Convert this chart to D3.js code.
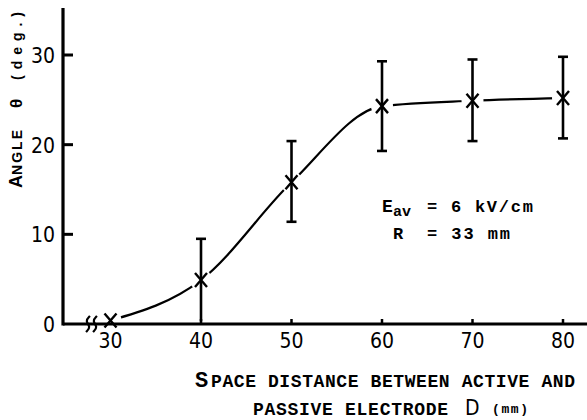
<!DOCTYPE html>
<html>
<head>
<meta charset="utf-8">
<script src="https://cdn.jsdelivr.net/npm/d3@7"></script>
<style>
  html, body { margin: 0; padding: 0; background: #fff; }
  svg { display: block; }
  .tick-label { font-family: "Liberation Sans Narrow", "DejaVu Sans Condensed", sans-serif; font-size: 21px; fill: #000; }
  .mono { font-family: "Liberation Mono", "DejaVu Sans Mono", monospace; font-weight: bold; fill: #000; }
  .sans { font-family: "Liberation Sans", Arial, sans-serif; font-weight: bold; fill: #000; }
</style>
</head>
<body>
<svg id="chart" width="587" height="420"></svg>
<script>
// Measured deflection angle against electrode spacing
const distances = [30, 40, 50, 60, 70, 80];
const angles    = [0.4, 4.9, 15.8, 24.3, 24.9, 25.2];
const errLow    = [0.4, 0.3, 11.4, 19.3, 20.4, 20.7];
const errHigh   = [0.4, 9.5, 20.4, 29.3, 29.5, 29.8];
const xTicks = [30, 40, 50, 60, 70, 80];
const yTicks = [0, 10, 20, 30];

const svg = d3.select("#chart");
const x = d3.scaleLinear().domain([30, 80]).range([110.5, 563]);
const y = d3.scaleLinear().domain([0, 30]).range([324, 55]);
const axisX = 63;
const axisY = y(0);

const pts = distances.map((d, i) => ({ d, a: angles[i], lo: errLow[i], hi: errHigh[i] }));

// Mask that opens gaps in the fitted curve around every marker
const defs = svg.append("defs");
const mask = defs.append("mask").attr("id", "gaps");
mask.append("rect").attr("x", 0).attr("y", 0).attr("width", 587).attr("height", 420).attr("fill", "#fff");
mask.selectAll("circle").data(pts).join("circle")
  .attr("cx", p => x(p.d)).attr("cy", p => y(p.a)).attr("r", 11).attr("fill", "#000");

// Fitted curve
const line = d3.line().x(p => x(p.d)).y(p => y(p.a)).curve(d3.curveMonotoneX);
svg.append("path").datum(pts).attr("d", line)
  .attr("fill", "none").attr("stroke", "#000").attr("stroke-width", 2.2)
  .attr("mask", "url(#gaps)");

// Axes
svg.append("line").attr("x1", axisX).attr("x2", axisX).attr("y1", 8).attr("y2", axisY + 1.5)
  .attr("stroke", "#000").attr("stroke-width", 3.2);
svg.append("line").attr("x1", axisX).attr("x2", 587).attr("y1", axisY).attr("y2", axisY)
  .attr("stroke", "#000").attr("stroke-width", 3);

// Y ticks point inward
svg.selectAll(".ytick").data(yTicks.filter(t => t > 0)).join("line")
  .attr("x1", axisX).attr("x2", axisX + 10).attr("y1", t => y(t)).attr("y2", t => y(t))
  .attr("stroke", "#000").attr("stroke-width", 3);
svg.selectAll(".ylab").data(yTicks).join("text").attr("class", "tick-label")
  .attr("x", axisX - 8).attr("y", t => y(t) + 8).attr("text-anchor", "end").text(t => t);

// X ticks (short, upward)
svg.selectAll(".xtick").data(xTicks.filter(t => t > 30)).join("line")
  .attr("x1", t => x(t)).attr("x2", t => x(t)).attr("y1", axisY).attr("y2", axisY - 5)
  .attr("stroke", "#000").attr("stroke-width", 2.5);
svg.selectAll(".xlab").data(xTicks).join("text").attr("class", "tick-label")
  .attr("x", t => x(t)).attr("y", axisY + 24).attr("text-anchor", "middle").text(t => t);

// Axis break symbol
const brk = d3.line().curve(d3.curveBasis);
[88, 95].forEach(bx => {
  svg.append("path")
    .attr("d", brk([[bx + 2, axisY - 8], [bx - 3, axisY - 3], [bx + 3, axisY + 3], [bx - 2, axisY + 8]]))
    .attr("fill", "none").attr("stroke", "#000").attr("stroke-width", 2.2);
});

// Error bars
const bars = svg.selectAll(".err").data(pts.filter(p => p.hi - p.lo > 0.5)).join("g");
bars.append("line").attr("x1", p => x(p.d)).attr("x2", p => x(p.d))
  .attr("y1", p => y(p.lo)).attr("y2", p => y(p.hi)).attr("stroke", "#000").attr("stroke-width", 2.6);
bars.append("line").attr("x1", p => x(p.d) - 5).attr("x2", p => x(p.d) + 5)
  .attr("y1", p => y(p.hi)).attr("y2", p => y(p.hi)).attr("stroke", "#000").attr("stroke-width", 2.6);
bars.filter(p => p.lo > 1).append("line").attr("x1", p => x(p.d) - 5).attr("x2", p => x(p.d) + 5)
  .attr("y1", p => y(p.lo)).attr("y2", p => y(p.lo)).attr("stroke", "#000").attr("stroke-width", 2.6);

// Cross markers
const s = 6;
svg.selectAll(".mk").data(pts).join("path")
  .attr("d", p => {
    const cx = x(p.d), cy = y(p.a);
    return `M${cx - s},${cy - s - 1}L${cx + s},${cy + s + 1}M${cx + s},${cy - s - 1}L${cx - s},${cy + s + 1}`;
  })
  .attr("stroke", "#000").attr("stroke-width", 2.4).attr("fill", "none");

// Annotation
function put(txt, px, py, size, cls, len) {
  const t = svg.append("text").attr("class", cls).attr("x", px).attr("y", py)
    .attr("font-size", size).text(txt);
  if (len) t.attr("textLength", len).attr("lengthAdjust", "spacing");
  return t;
}
put("E", 382, 212, 18, "mono");
put("av", 393, 216, 15, "mono");
put("= 6 kV/cm", 427, 212, 17, "mono", 106);
put("R", 393, 239, 17, "mono");
put("= 33 mm", 427, 239, 17, "mono", 83);

// X axis title (small caps)
put("S", 195, 387, 22, "mono");
put("PACE DISTANCE BETWEEN ACTIVE AND", 211, 387, 18, "mono", 364);
put("PASSIVE ELECTRODE", 253, 415, 18, "mono", 195);
put("D", 465, 415, 25, "tick-label");
put("(mm)", 492, 413, 13, "mono", 36);

// Y axis title (rotated)
const yt = svg.append("g").attr("transform", "translate(22,0) rotate(-90)");
yt.append("text").attr("class", "sans").attr("x", -188).attr("y", 0).attr("font-size", 18).text("A");
yt.append("text").attr("class", "sans").attr("x", -175).attr("y", 0).attr("font-size", 14)
  .attr("textLength", 45).attr("lengthAdjust", "spacing").text("NGLE");
yt.append("text").attr("class", "sans").attr("x", -108).attr("y", 0).attr("font-size", 17).attr("font-weight", "normal").text("θ");
yt.append("text").attr("class", "sans").attr("x", -80).attr("y", 0).attr("font-size", 14)
  .attr("textLength", 68).attr("lengthAdjust", "spacing").text("(deg.)");
</script>
</body>
</html>
